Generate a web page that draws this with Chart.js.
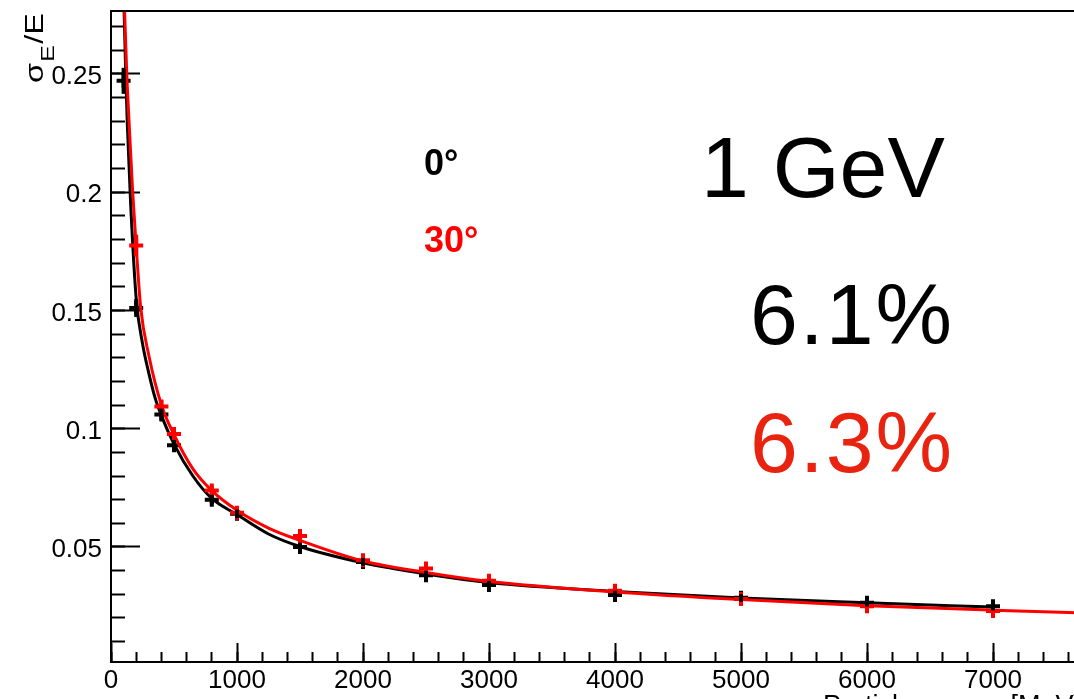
<!DOCTYPE html>
<html>
<head>
<meta charset="utf-8">
<script src="https://cdn.jsdelivr.net/npm/chart.js@4.4.1/dist/chart.umd.min.js"></script>
<style>
  html, body { margin: 0; padding: 0; background: #fff; overflow: hidden; }
  #wrap { width: 1074px; height: 699px; overflow: hidden; position: relative; }
  canvas { display: block; }
</style>
</head>
<body>
<div id="wrap"><canvas id="myChart" width="1140" height="699"></canvas></div>
<script>
// measured resolution, 0 degrees (black)
var energy0 = [100, 200, 400, 500, 800, 1000, 1500, 2000, 2500, 3000, 4000, 5000, 6000, 7000];
var sigma0  = [0.247, 0.151, 0.106, 0.093, 0.070, 0.064, 0.050, 0.0437, 0.0381, 0.0339, 0.0297, 0.0285, 0.0264, 0.0250];
var error0  = [0.0055, 0.0038, 0.0025, 0.0022, 0.0020, 0.0018, 0.0018, 0.0016, 0.0018, 0.0018, 0.0018, 0.0016, 0.0016, 0.0018];

// measured resolution, 30 degrees (red)
var energy30 = [200, 400, 500, 800, 1000, 1500, 2000, 2500, 3000, 4000, 5000, 6000, 7000];
var sigma30  = [0.1774, 0.1094, 0.0978, 0.0739, 0.0645, 0.0546, 0.0444, 0.0409, 0.0357, 0.0315, 0.0280, 0.0250, 0.0229];
var error30  = [0.0046, 0.0025, 0.0022, 0.0020, 0.0018, 0.0018, 0.0016, 0.0018, 0.0018, 0.0018, 0.0016, 0.0016, 0.0018];

// fit curves
var fitE0 = [104, 117, 130, 156, 200, 250, 300, 350, 400, 500, 650, 800, 1000, 1250, 1500, 2000, 2500, 3000, 4000, 5000, 6000, 7000];
var fitS0 = [0.2765, 0.250, 0.228, 0.195, 0.155, 0.136, 0.1235, 0.113, 0.1055, 0.0935, 0.080, 0.0705, 0.0637, 0.0555, 0.0502, 0.0433, 0.0386, 0.0350, 0.0312, 0.0284, 0.0264, 0.0246];
var fitE30 = [108, 125, 143, 172, 200, 236, 300, 400, 500, 650, 800, 1000, 1250, 1500, 2000, 2500, 3000, 4000, 5000, 6000, 7000, 8000];
var fitS30 = [0.2765, 0.250, 0.230, 0.200, 0.177, 0.151, 0.131, 0.1100, 0.0975, 0.083, 0.0738, 0.0655, 0.058, 0.0528, 0.0441, 0.0392, 0.0354, 0.0310, 0.0278, 0.0252, 0.0233, 0.0217];

// axes
var xRange = [0, 8000], xMajor = 1000, xMinor = 200;
var yRange = [0.0014, 0.2765], yMajor = 0.05, yMinor = 0.01;

var labels = {
  angle0: '0°', angle30: '30°',
  energy: '1 GeV', res0: '6.1%', res30: '6.3%',
  xTitle: 'Particle energy [MeV]'
};

var FONT = '"Liberation Sans", Arial, Helvetica, sans-serif';

function points(xs, ys, errs) {
  return xs.map(function(x, i) { return {x: x, y: ys[i], err: errs ? errs[i] : 0}; });
}

// keep the plot frame where it is, labels may hang over the edges
function fixBox(w, h) {
  return function(s) {
    if (w !== null) s.width = w;
    if (h !== null) s.height = h;
    s.paddingTop = s.paddingBottom = s.paddingLeft = s.paddingRight = 0;
  };
}

// vertical error bars for the measured points
var errorBars = {
  id: 'errorBars',
  afterDatasetsDraw: function(chart) {
    var ctx = chart.ctx;
    var ys = chart.scales.y;
    var area = chart.chartArea;
    ctx.save();
    ctx.beginPath();
    ctx.rect(area.left, area.top, area.right - area.left, area.bottom - area.top);
    ctx.clip();
    chart.data.datasets.forEach(function(ds, i) {
      if (!ds.isMeasured) return;
      var meta = chart.getDatasetMeta(i);
      ctx.strokeStyle = ds.borderColor;
      ctx.lineWidth = 4;
      meta.data.forEach(function(pt, j) {
        var d = ds.data[j];
        ctx.beginPath();
        ctx.moveTo(pt.x, ys.getPixelForValue(d.y + d.err));
        ctx.lineTo(pt.x, ys.getPixelForValue(d.y - d.err));
        ctx.stroke();
      });
    });
    ctx.restore();
  }
};

var overlay = {
  id: 'overlay',
  afterDraw: function(chart) {
    var ctx = chart.ctx;
    var area = chart.chartArea;
    ctx.save();
    // top frame line
    ctx.strokeStyle = '#000';
    ctx.lineWidth = 2;
    ctx.beginPath();
    ctx.moveTo(area.left, area.top);
    ctx.lineTo(area.right, area.top);
    ctx.lineTo(area.right, area.bottom);
    ctx.stroke();

    ctx.textAlign = 'left';
    ctx.textBaseline = 'alphabetic';

    ctx.font = 'bold 36px ' + FONT;
    ctx.fillStyle = '#000';
    ctx.fillText(labels.angle0, 424, 175);
    ctx.fillStyle = '#ff0000';
    ctx.fillText(labels.angle30, 424, 252);

    ctx.font = '86px ' + FONT;
    ctx.fillStyle = '#000';
    ctx.fillText(labels.energy, 701, 197);
    ctx.letterSpacing = '2px';
    ctx.fillText(labels.res0, 750, 344);
    ctx.fillStyle = '#e8230f';
    ctx.fillText(labels.res30, 750, 472);
    ctx.letterSpacing = '0px';

    // x axis title, mostly cut by the bottom edge
    ctx.fillStyle = '#000';
    ctx.font = '27px ' + FONT;
    ctx.fillText(labels.xTitle, 823, 714);

    // y axis title: sigma_E / E
    ctx.save();
    ctx.translate(43, 83);
    ctx.rotate(-Math.PI / 2);
    ctx.scale(1.3, 1);
    ctx.font = '25px ' + FONT;
    ctx.fillText('σ', 0, 0);
    var w = ctx.measureText('σ').width;
    ctx.font = '19px ' + FONT;
    ctx.fillText('E', w + 1, 11);
    w += ctx.measureText('E').width + 2;
    ctx.font = '25px ' + FONT;
    ctx.fillText('/E', w, 0);
    ctx.restore();

    ctx.restore();
  }
};

var ctx = document.getElementById('myChart').getContext('2d');
var myChart = new Chart(ctx, {
  type: 'line',
  data: {
    datasets: [
      {
        label: '30 deg',
        data: points(energy30, sigma30, error30),
        isMeasured: true,
        showLine: false,
        pointStyle: 'cross',
        pointRadius: 7,
        pointBorderWidth: 4,
        borderColor: '#ff0000',
        backgroundColor: '#ff0000',
        order: 0
      },
      {
        label: '30 deg fit',
        data: points(fitE30, fitS30),
        borderColor: '#ff0000',
        borderWidth: 3,
        pointRadius: 0,
        cubicInterpolationMode: 'monotone',
        order: 1
      },
      {
        label: '0 deg',
        data: points(energy0, sigma0, error0),
        isMeasured: true,
        showLine: false,
        pointStyle: 'cross',
        pointRadius: 7,
        pointBorderWidth: 4,
        borderColor: '#000',
        backgroundColor: '#000',
        order: 2
      },
      {
        label: '0 deg fit',
        data: points(fitE0, fitS0),
        borderColor: '#000',
        borderWidth: 3,
        pointRadius: 0,
        cubicInterpolationMode: 'monotone',
        order: 3
      }
    ]
  },
  options: {
    responsive: false,
    animation: false,
    events: [],
    layout: { padding: { top: 9, right: 21, left: 0, bottom: 0 } },
    plugins: { legend: { display: false }, tooltip: { enabled: false } },
    scales: {
      x: {
        type: 'linear',
        position: 'bottom',
        weight: 0,
        min: xRange[0],
        max: xRange[1],
        border: { display: true, color: '#000', width: 2 },
        grid: { drawOnChartArea: false, tickLength: -19, tickWidth: 2, tickColor: '#000' },
        ticks: {
          stepSize: xMajor,
          includeBounds: false,
          autoSkip: false,
          maxRotation: 0,
          padding: 22,
          color: '#000',
          font: { family: FONT, size: 26 },
          callback: function(v) { return String(v); }
        },
        afterFit: fixBox(null, 37)
      },
      xMinorTicks: {
        type: 'linear',
        position: 'bottom',
        weight: -1,
        min: xRange[0],
        max: xRange[1],
        border: { display: false },
        grid: { drawOnChartArea: false, tickLength: -10, tickWidth: 2, tickColor: '#000' },
        ticks: { stepSize: xMinor, includeBounds: false, autoSkip: false, display: false },
        afterFit: fixBox(null, 0)
      },
      y: {
        type: 'linear',
        position: 'left',
        weight: 0,
        min: yRange[0],
        max: yRange[1],
        border: { display: true, color: '#000', width: 2 },
        grid: { drawOnChartArea: false, tickLength: -29, tickWidth: 2, tickColor: '#000' },
        ticks: {
          stepSize: yMajor,
          includeBounds: false,
          autoSkip: false,
          padding: 38,
          labelOffset: 3,
          color: '#000',
          font: { family: FONT, size: 26 },
          callback: function(v) { return String(Number(v.toFixed(2))); }
        },
        afterFit: fixBox(111, null)
      },
      yMinorTicks: {
        type: 'linear',
        position: 'left',
        weight: -1,
        min: yRange[0],
        max: yRange[1],
        border: { display: false },
        grid: { drawOnChartArea: false, tickLength: -14, tickWidth: 2, tickColor: '#000' },
        ticks: { stepSize: yMinor, includeBounds: false, autoSkip: false, display: false },
        afterFit: fixBox(0, null)
      }
    }
  },
  plugins: [errorBars, overlay]
});
</script>
</body>
</html>
